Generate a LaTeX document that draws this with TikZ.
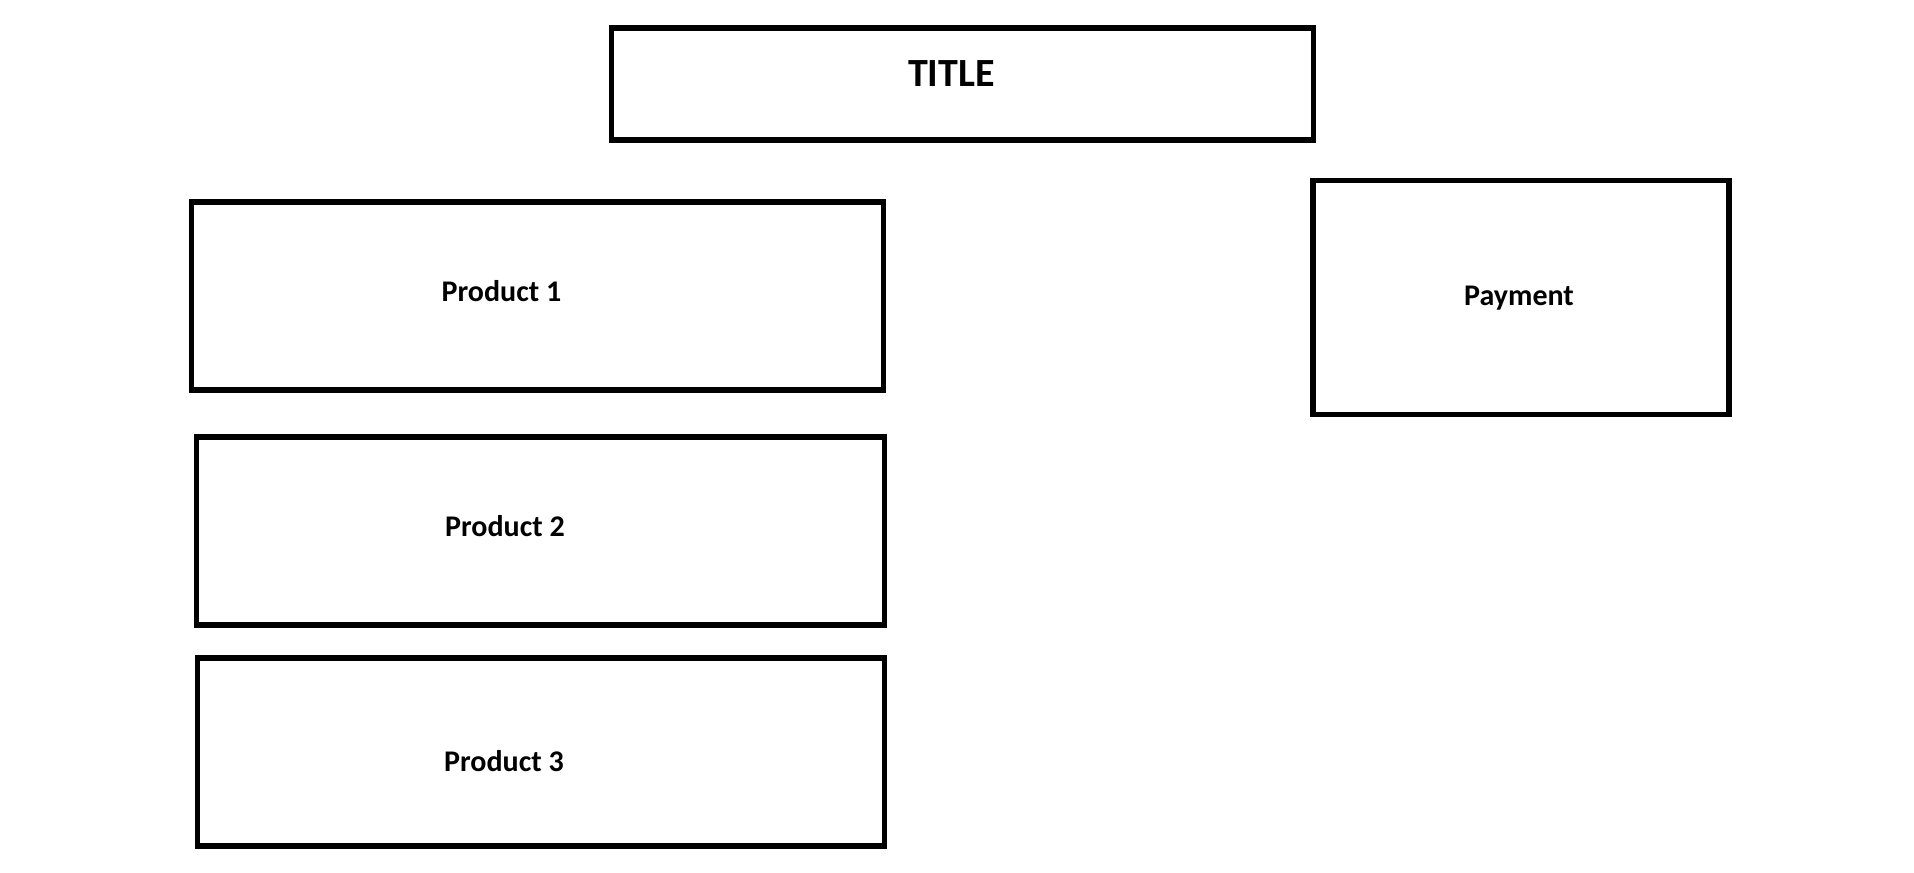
\documentclass[tikz,border=0pt]{standalone}
\usepackage{fontspec}
\setmainfont{Carlito}
\begin{document}
\begin{tikzpicture}[x=0.5pt,y=-0.5pt,
  box/.style={draw=black,line width=2.6pt,inner sep=0pt,rectangle},
  lbl/.style={font=\bfseries\fontsize{15pt}{17pt}\selectfont,inner sep=0pt,anchor=base},
  ttl/.style={font=\bfseries\fontsize{20pt}{23pt}\selectfont,inner sep=0pt,anchor=base}]
\useasboundingbox (0,0) rectangle (1914,872);
\node[box,minimum width=702*0.5pt,minimum height=112*0.5pt] (title) at (962.75,84) {};
\node[box,minimum width=692*0.5pt,minimum height=188*0.5pt] (p1) at (537.5,296) {};
\node[box,minimum width=688*0.5pt,minimum height=188*0.5pt] (p2) at (540.5,531) {};
\node[box,minimum width=687*0.5pt,minimum height=188*0.5pt] (p3) at (541,752) {};
\node[box,minimum width=416*0.5pt,minimum height=234*0.5pt] (pay) at (1521,297.5) {};
\node[ttl] (titletext) at (951.5,87) {TITLE};
\node[lbl] (p1text) at (501.5,301) {Product 1};
\node[lbl] (p2text) at (505,536) {Product 2};
\node[lbl] (p3text) at (504,771) {Product 3};
\node[lbl] (paytext) at (1519,305.5) {Payment};
\end{tikzpicture}
\end{document}
